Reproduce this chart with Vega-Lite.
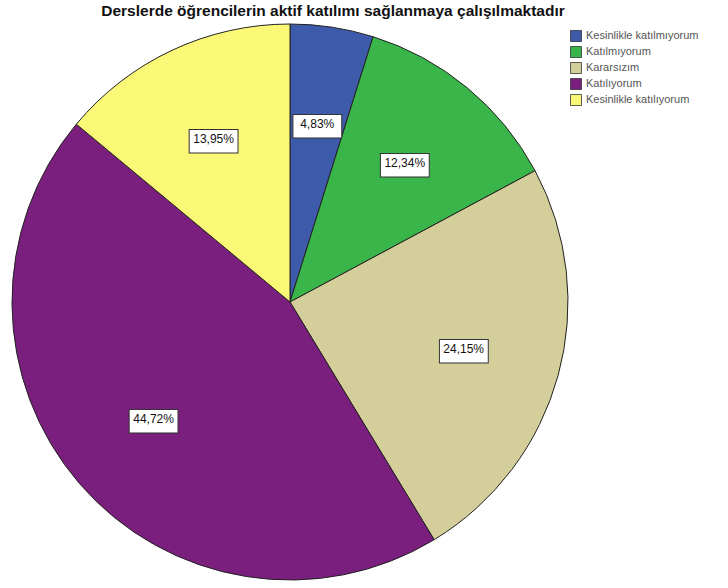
{
  "$schema": "https://vega.github.io/schema/vega-lite/v6.json",
  "width": 556,
  "height": 556,
  "autosize": {"type": "none"},
  "padding": {"left": 12, "top": 24, "right": 160, "bottom": 8},
  "background": "white",
  "title": {
    "text": "Derslerde öğrencilerin aktif katılımı sağlanmaya çalışılmaktadır",
    "font": "Liberation Sans",
    "fontSize": 15.5,
    "fontWeight": "bold",
    "color": "#111111",
    "anchor": "middle",
    "dx": 43,
    "offset": -12,
    "baseline": "bottom"
  },
  "data": {
    "values": [
      {"kategori": "Kesinlikle katılmıyorum", "yuzde": 4.83, "etiket": "4,83%", "sira": 1},
      {"kategori": "Katılmıyorum", "yuzde": 12.34, "etiket": "12,34%", "sira": 2},
      {"kategori": "Kararsızım", "yuzde": 24.15, "etiket": "24,15%", "sira": 3},
      {"kategori": "Katılıyorum", "yuzde": 44.72, "etiket": "44,72%", "sira": 4},
      {"kategori": "Kesinlikle katılıyorum", "yuzde": 13.95, "etiket": "13,95%", "sira": 5}
    ]
  },
  "encoding": {
    "theta": {"field": "yuzde", "type": "quantitative", "stack": true},
    "order": {"field": "sira", "type": "quantitative"}
  },
  "layer": [
    {
      "mark": {"type": "arc", "radius": 278, "stroke": "#222222", "strokeWidth": 1},
      "encoding": {
        "color": {
          "field": "kategori",
          "type": "nominal",
          "scale": {
            "domain": ["Kesinlikle katılmıyorum", "Katılmıyorum", "Kararsızım", "Katılıyorum", "Kesinlikle katılıyorum"],
            "range": ["#3E5AAA", "#3AB54A", "#D4CF9A", "#7B1F7F", "#FBF877"]
          },
          "legend": {
            "orient": "none",
            "legendX": 558,
            "legendY": 6,
            "title": null,
            "padding": 0,
            "symbolType": "square",
            "symbolSize": 121,
            "symbolStrokeColor": "#333333",
            "symbolStrokeWidth": 0.8,
            "labelFont": "Liberation Sans",
            "labelFontSize": 11,
            "labelColor": "#555555",
            "rowPadding": 0,
            "labelOffset": 4
          }
        }
      }
    },
    {
      "mark": {"type": "text", "radius": 180, "text": "▬", "font": "DejaVu Sans", "fontSize": 64, "fill": "white", "stroke": "#333333", "strokeWidth": 1},
      "encoding": {"detail": {"field": "kategori"}}
    },
    {
      "mark": {"type": "text", "radius": 180, "font": "Liberation Sans", "fontSize": 12, "color": "#111111"},
      "encoding": {"detail": {"field": "kategori"}, "text": {"field": "etiket"}}
    }
  ]
}
